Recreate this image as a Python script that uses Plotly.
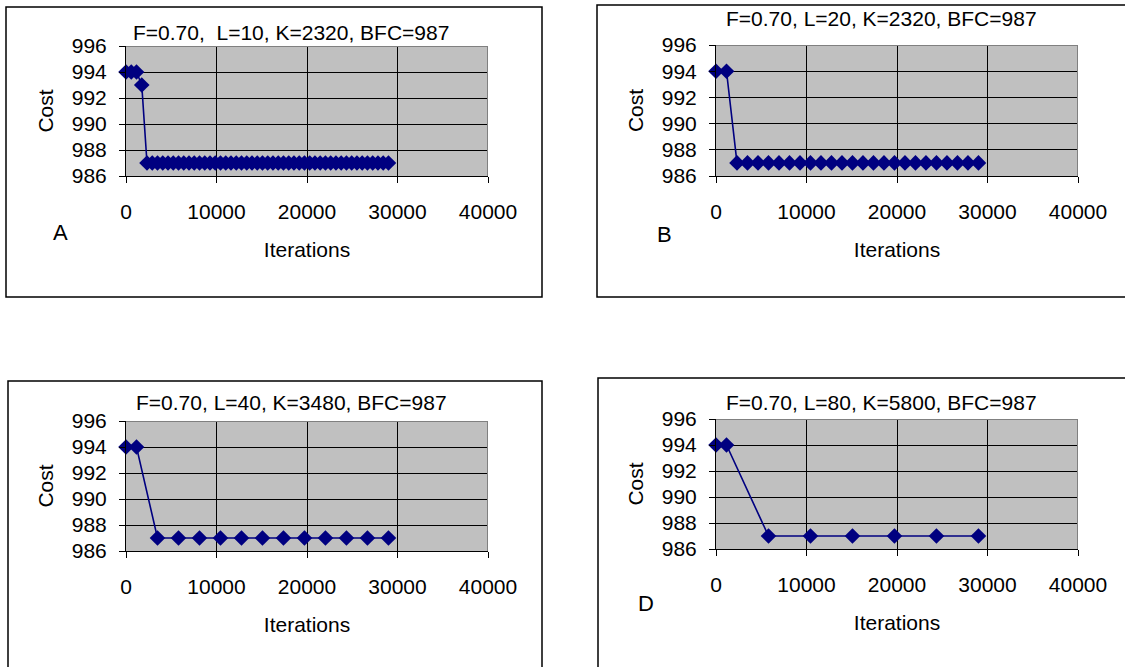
import plotly.graph_objects as go

W, H = 1125, 667

# ---------------- data ----------------
iters_A = [0, 580, 1160, 1740, 2320, 2900, 3480, 4060, 4640, 5220, 5800, 6380, 6960,
           7540, 8120, 8700, 9280, 9860, 10440, 11020, 11600, 12180, 12760, 13340,
           13920, 14500, 15080, 15660, 16240, 16820, 17400, 17980, 18560, 19140,
           19720, 20300, 20880, 21460, 22040, 22620, 23200, 23780, 24360, 24940,
           25520, 26100, 26680, 27260, 27840, 28420, 29000]
cost_A = [994, 994, 994, 993, 987, 987, 987, 987, 987, 987, 987, 987, 987,
          987, 987, 987, 987, 987, 987, 987, 987, 987, 987, 987,
          987, 987, 987, 987, 987, 987, 987, 987, 987, 987,
          987, 987, 987, 987, 987, 987, 987, 987, 987, 987,
          987, 987, 987, 987, 987, 987, 987]

iters_B = [0, 1160, 2320, 3480, 4640, 5800, 6960, 8120, 9280, 10440, 11600, 12760,
           13920, 15080, 16240, 17400, 18560, 19720, 20880, 22040, 23200, 24360,
           25520, 26680, 27840, 29000]
cost_B = [994, 994, 987, 987, 987, 987, 987, 987, 987, 987, 987, 987,
          987, 987, 987, 987, 987, 987, 987, 987, 987, 987,
          987, 987, 987, 987]

iters_C = [0, 1160, 3480, 5800, 8120, 10440, 12760, 15080, 17400, 19720, 22040,
           24360, 26680, 29000]
cost_C = [994, 994, 987, 987, 987, 987, 987, 987, 987, 987, 987, 987, 987, 987]

iters_D = [0, 1160, 5800, 10440, 15080, 19720, 24360, 29000]
cost_D = [994, 994, 987, 987, 987, 987, 987, 987]

titles = ["F=0.70,  L=10, K=2320, BFC=987",
          "F=0.70, L=20, K=2320, BFC=987",
          "F=0.70, L=40, K=3480, BFC=987",
          "F=0.70, L=80, K=5800, BFC=987"]
letters = ["A", "B", "", "D"]
x_ticks = [0, 10000, 20000, 30000, 40000]
y_ticks = [986, 988, 990, 992, 994, 996]
x_title = "Iterations"
y_title = "Cost"

# ---------------- layout geometry (pixels) ----------------
panels = [
    dict(x=iters_A, y=cost_A, plot=(126, 46, 488, 176), box=(6, 7, 542, 297),
         title_y=32, letter_xy=(60, 233)),
    dict(x=iters_B, y=cost_B, plot=(716, 45, 1078, 176), box=(597, 5, 1135, 297),
         title_y=18, letter_xy=(664, 235)),
    dict(x=iters_C, y=cost_C, plot=(126, 421, 488, 551), box=(8, 381, 542, 680),
         title_y=402, letter_xy=None),
    dict(x=iters_D, y=cost_D, plot=(716, 419, 1078, 549), box=(598, 378, 1135, 680),
         title_y=402, letter_xy=(646, 603)),
]

FONT = "Arial, Liberation Sans, sans-serif"
NAVY = "#000080"


def px(xp):
    return xp / W


def py(yp):
    return 1 - yp / H


fig = go.Figure()
layout = dict(
    width=W, height=H, margin=dict(l=0, r=0, t=0, b=0),
    paper_bgcolor="white", plot_bgcolor="#C0C0C0",
    showlegend=False, font=dict(family=FONT, size=20, color="black"),
    shapes=[], annotations=[],
)

for i, p in enumerate(panels):
    n = "" if i == 0 else str(i + 1)
    xa, ya = "x" + n, "y" + n
    fig.add_trace(go.Scatter(
        x=p["x"], y=p["y"], xaxis=xa, yaxis=ya, mode="lines+markers",
        line=dict(color=NAVY, width=1.6),
        marker=dict(symbol="diamond", size=12, color=NAVY),
        cliponaxis=False, hoverinfo="x+y",
    ))
    x0, y0, x1, y1 = p["plot"]
    layout["xaxis" + n] = dict(
        domain=[px(x0), px(x1)], anchor=ya, range=[0, 40000],
        tickvals=x_ticks, ticktext=[str(v) for v in x_ticks],
        showgrid=True, gridcolor="black", gridwidth=1,
        showline=True, linecolor="black", linewidth=1,
        ticks="outside", ticklen=6, tickcolor="black",
        zeroline=False, tickfont=dict(size=21, family=FONT),
        ticklabelstandoff=11, automargin=False,
        title=dict(text=x_title, standoff=20, font=dict(size=21, family=FONT)),
        fixedrange=True,
    )
    layout["yaxis" + n] = dict(
        domain=[py(y1), py(y0)], anchor=xa, range=[986, 996],
        tickvals=y_ticks, ticktext=[str(v) for v in y_ticks],
        showgrid=True, gridcolor="black", gridwidth=1,
        showline=True, linecolor="black", linewidth=1,
        ticks="outside", ticklen=6, tickcolor="black",
        zeroline=False, tickfont=dict(size=21, family=FONT),
        ticklabelstandoff=8, automargin=False,
        title=dict(text=y_title, standoff=12, font=dict(size=21, family=FONT)),
        fixedrange=True,
    )
    # grey top/right border of plot area
    layout["shapes"].append(dict(type="line", xref=xa, yref=ya, x0=0, x1=40000,
                                 y0=996, y1=996, line=dict(color="#808080", width=2)))
    layout["shapes"].append(dict(type="line", xref=xa, yref=ya, x0=40000, x1=40000,
                                 y0=986, y1=996, line=dict(color="#808080", width=2)))
    # outer panel box
    bx0, by0, bx1, by1 = p["box"]
    layout["shapes"].append(dict(type="rect", xref="paper", yref="paper",
                                 x0=px(bx0), x1=px(bx1), y0=py(by1), y1=py(by0),
                                 line=dict(color="black", width=1.5),
                                 fillcolor="rgba(0,0,0,0)", layer="below"))
    # panel title
    layout["annotations"].append(dict(
        text=titles[i], xref="paper", yref="paper",
        x=px((x0 + x1) / 2 - 16), y=py(p["title_y"]), xanchor="center", yanchor="middle",
        showarrow=False, font=dict(size=21, family=FONT, color="black")))
    if p["letter_xy"] is not None:
        lx, ly = p["letter_xy"]
        layout["annotations"].append(dict(
            text=letters[i], xref="paper", yref="paper", x=px(lx), y=py(ly),
            xanchor="center", yanchor="middle", showarrow=False,
            font=dict(size=22, family=FONT, color="black")))

fig.update_layout(**layout)
fig.write_html("out.html", config={"displayModeBar": False},
               post_script="document.body.style.margin='0';document.body.style.padding='0';")
